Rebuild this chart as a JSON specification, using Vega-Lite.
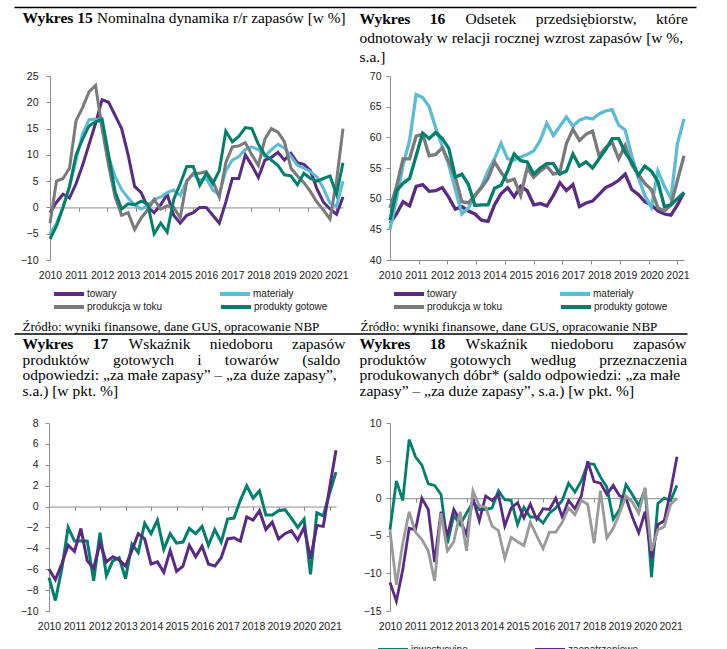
{
"$schema": "https://vega.github.io/schema/vega-lite/v6.json",
"width": 727, "height": 649,
"autosize": {"type": "none"},
"padding": 0,
"background": "white",
"config": {
  "view": {"stroke": null},
  "axis": {"grid": false, "labelFont": "Liberation Sans", "labelFontSize": 10.5, "labelColor": "#222", "domainColor": "#8c8c8c", "tickColor": "#8c8c8c", "titleFont": "Liberation Serif", "titleColor": "#000", "titleFontWeight": "normal", "titleLimit": 2000, "labelFlush": false, "labelOverlap": false, "titleAngle": 0, "titleAlign": "left", "titleBaseline": "alphabetic"},
  "legend": {"title": null, "symbolType": "stroke", "symbolSize": 900, "symbolStrokeWidth": 4, "symbolOpacity": 1, "labelFont": "Liberation Sans", "labelFontSize": 10, "labelColor": "#222", "labelOffset": 1, "rowPadding": 0, "padding": 0, "orient": "none", "direction": "horizontal", "columns": 2}
},
"datasets": {
  "d15": [
    {"t":2010,"towary":-1,"materiały":-5,"produkcja w toku":-3,"produkty gotowe":-6},
    {"t":2010.25,"towary":1,"materiały":-3,"produkcja w toku":5,"produkty gotowe":-3.5},
    {"t":2010.5,"towary":2.5,"materiały":0,"produkcja w toku":5.5,"produkty gotowe":0},
    {"t":2010.75,"towary":1.8,"materiały":4,"produkcja w toku":7.5,"produkty gotowe":4},
    {"t":2011,"towary":4.5,"materiały":9,"produkcja w toku":16.5,"produkty gotowe":10},
    {"t":2011.25,"towary":8,"materiały":14,"produkcja w toku":19,"produkty gotowe":13},
    {"t":2011.5,"towary":12,"materiały":16.7,"produkcja w toku":22,"produkty gotowe":15.5},
    {"t":2011.75,"towary":16,"materiały":16.8,"produkcja w toku":23.2,"produkty gotowe":16.3},
    {"t":2012,"towary":20.5,"materiały":16,"produkcja w toku":15,"produkty gotowe":16.8},
    {"t":2012.25,"towary":20,"materiały":9.6,"produkcja w toku":8,"produkty gotowe":10},
    {"t":2012.5,"towary":17.5,"materiały":5.9,"produkcja w toku":2,"produkty gotowe":3},
    {"t":2012.75,"towary":15,"materiały":3.4,"produkcja w toku":-1.5,"produkty gotowe":-0.3},
    {"t":2013,"towary":10,"materiały":1.8,"produkcja w toku":-1,"produkty gotowe":0.7},
    {"t":2013.25,"towary":4,"materiały":0.5,"produkcja w toku":-4.2,"produkty gotowe":0.5},
    {"t":2013.5,"towary":2.8,"materiały":-0.3,"produkcja w toku":-2,"produkty gotowe":1.2},
    {"t":2013.75,"towary":0,"materiały":0.3,"produkcja w toku":-0.5,"produkty gotowe":0.7},
    {"t":2014,"towary":-1,"materiały":1.5,"produkcja w toku":1.5,"produkty gotowe":-5},
    {"t":2014.25,"towary":0.5,"materiały":2,"produkcja w toku":-0.3,"produkty gotowe":-3},
    {"t":2014.5,"towary":2.5,"materiały":2.8,"produkcja w toku":0.3,"produkty gotowe":-4.7},
    {"t":2014.75,"towary":-1.5,"materiały":3.3,"produkcja w toku":0,"produkty gotowe":1.5},
    {"t":2015,"towary":-3,"materiały":2.3,"produkcja w toku":-2,"produkty gotowe":4.5},
    {"t":2015.25,"towary":-1.5,"materiały":5,"produkcja w toku":5,"produkty gotowe":7.8},
    {"t":2015.5,"towary":-1,"materiały":6.3,"produkcja w toku":6.5,"produkty gotowe":7.8},
    {"t":2015.75,"towary":0,"materiały":5.2,"produkcja w toku":6.5,"produkty gotowe":4.2},
    {"t":2016,"towary":0,"materiały":5.5,"produkcja w toku":6.8,"produkty gotowe":6.5},
    {"t":2016.25,"towary":-1.5,"materiały":3.3,"produkcja w toku":5,"produkty gotowe":4.5},
    {"t":2016.5,"towary":-3,"materiały":2.4,"produkcja w toku":2,"produkty gotowe":7},
    {"t":2016.75,"towary":1,"materiały":7,"produkcja w toku":8.5,"produkty gotowe":14.5},
    {"t":2017,"towary":5.5,"materiały":9,"produkcja w toku":11.5,"produkty gotowe":12.5},
    {"t":2017.25,"towary":5.5,"materiały":9.7,"produkcja w toku":11.7,"produkty gotowe":13.5},
    {"t":2017.5,"towary":10,"materiały":11,"produkcja w toku":12.3,"produkty gotowe":15.2},
    {"t":2017.75,"towary":8,"materiały":11.5,"produkcja w toku":10,"produkty gotowe":15},
    {"t":2018,"towary":5.7,"materiały":11,"produkcja w toku":8,"produkty gotowe":12},
    {"t":2018.25,"towary":9,"materiały":9.7,"produkcja w toku":13,"produkty gotowe":10},
    {"t":2018.5,"towary":9.5,"materiały":11,"produkcja w toku":15,"produkty gotowe":9},
    {"t":2018.75,"towary":10.5,"materiały":12,"produkcja w toku":14.3,"produkty gotowe":8},
    {"t":2019,"towary":9,"materiały":11.3,"produkcja w toku":12.5,"produkty gotowe":6.2},
    {"t":2019.25,"towary":10.3,"materiały":9.7,"produkcja w toku":7.5,"produkty gotowe":6},
    {"t":2019.5,"towary":8.5,"materiały":8,"produkcja w toku":6,"produkty gotowe":4.3},
    {"t":2019.75,"towary":8.2,"materiały":7.5,"produkcja w toku":4.7,"produkty gotowe":6.5},
    {"t":2020,"towary":7,"materiały":6.8,"produkcja w toku":3,"produkty gotowe":5.5},
    {"t":2020.25,"towary":3.5,"materiały":5.8,"produkcja w toku":1,"produkty gotowe":5},
    {"t":2020.5,"towary":1,"materiały":3.6,"produkcja w toku":-0.5,"produkty gotowe":5.5},
    {"t":2020.75,"towary":-0.3,"materiały":0.8,"produkcja w toku":-2.2,"produkty gotowe":6},
    {"t":2021,"towary":-1.3,"materiały":0.2,"produkcja w toku":5,"produkty gotowe":2.5},
    {"t":2021.25,"towary":2,"materiały":5,"produkcja w toku":15,"produkty gotowe":8.5}
  ],
  "d16": [
    {"t":2010,"towary":46,"materiały":45,"produkcja w toku":48.5,"produkty gotowe":46.5},
    {"t":2010.25,"towary":47.5,"materiały":50,"produkcja w toku":52,"produkty gotowe":51.3},
    {"t":2010.5,"towary":49.5,"materiały":55.5,"produkcja w toku":56.5,"produkty gotowe":52.5},
    {"t":2010.75,"towary":48.8,"materiały":59.5,"produkcja w toku":56.5,"produkty gotowe":53.3},
    {"t":2011,"towary":52,"materiały":67,"produkcja w toku":60.2,"produkty gotowe":57},
    {"t":2011.25,"towary":52.3,"materiały":66.5,"produkcja w toku":60.5,"produkty gotowe":60.7},
    {"t":2011.5,"towary":51.2,"materiały":65,"produkcja w toku":57,"produkty gotowe":59.8},
    {"t":2011.75,"towary":51.3,"materiały":61.5,"produkcja w toku":57.2,"produkty gotowe":60.8},
    {"t":2012,"towary":51.8,"materiały":58.5,"produkcja w toku":58.3,"produkty gotowe":59.8},
    {"t":2012.25,"towary":50.2,"materiały":55.5,"produkcja w toku":56,"produkty gotowe":58.2},
    {"t":2012.5,"towary":48.3,"materiały":51.5,"produkcja w toku":53.5,"produkty gotowe":53.5},
    {"t":2012.75,"towary":48.7,"materiały":47.5,"produkcja w toku":49.5,"produkty gotowe":54},
    {"t":2013,"towary":48,"materiały":48.5,"produkcja w toku":49.3,"produkty gotowe":52.3},
    {"t":2013.25,"towary":47.5,"materiały":50.5,"produkcja w toku":50.5,"produkty gotowe":48.9},
    {"t":2013.5,"towary":46.5,"materiały":52,"produkcja w toku":51.8,"produkty gotowe":49},
    {"t":2013.75,"towary":46.3,"materiały":54.5,"produkcja w toku":53.3,"produkty gotowe":49},
    {"t":2014,"towary":49,"materiały":56.5,"produkcja w toku":56,"produkty gotowe":51.7},
    {"t":2014.25,"towary":50.8,"materiały":59,"produkcja w toku":54.3,"produkty gotowe":52.2},
    {"t":2014.5,"towary":51.8,"materiały":56.5,"produkcja w toku":52.8,"produkty gotowe":54.5},
    {"t":2014.75,"towary":50.3,"materiały":56.3,"produkcja w toku":53.2,"produkty gotowe":57.3},
    {"t":2015,"towary":52,"materiały":56.8,"produkcja w toku":50.5,"produkty gotowe":56.2},
    {"t":2015.25,"towary":51.3,"materiały":57.2,"produkcja w toku":55,"produkty gotowe":56},
    {"t":2015.5,"towary":49,"materiały":57.8,"produkcja w toku":53.5,"produkty gotowe":54},
    {"t":2015.75,"towary":49.2,"materiały":59.5,"produkcja w toku":54.5,"produkty gotowe":55},
    {"t":2016,"towary":48.8,"materiały":62.3,"produkcja w toku":55.3,"produkty gotowe":55.7},
    {"t":2016.25,"towary":50.5,"materiały":60.3,"produkcja w toku":54,"produkty gotowe":55.7},
    {"t":2016.5,"towary":52.6,"materiały":61.8,"produkcja w toku":54.3,"produkty gotowe":54},
    {"t":2016.75,"towary":51.3,"materiały":63.3,"produkcja w toku":59,"produkty gotowe":54.5},
    {"t":2017,"towary":52.3,"materiały":61.8,"produkcja w toku":61.3,"produkty gotowe":57.3},
    {"t":2017.25,"towary":48.7,"materiały":62.8,"produkcja w toku":59.5,"produkty gotowe":55.3},
    {"t":2017.5,"towary":49.3,"materiały":63.2,"produkcja w toku":60.5,"produkty gotowe":56},
    {"t":2017.75,"towary":49.6,"materiały":63,"produkcja w toku":61,"produkty gotowe":55},
    {"t":2018,"towary":50.7,"materiały":63.8,"produkcja w toku":57,"produkty gotowe":56.5},
    {"t":2018.25,"towary":51.8,"materiały":64.3,"produkcja w toku":58.3,"produkty gotowe":58},
    {"t":2018.5,"towary":52.3,"materiały":64.5,"produkcja w toku":59.2,"produkty gotowe":59.8},
    {"t":2018.75,"towary":53,"materiały":62,"produkcja w toku":56.5,"produkty gotowe":59.8},
    {"t":2019,"towary":54,"materiały":61.2,"produkcja w toku":58.7,"produkty gotowe":57.5},
    {"t":2019.25,"towary":51.5,"materiały":57,"produkcja w toku":55.5,"produkty gotowe":56},
    {"t":2019.5,"towary":50.7,"materiały":53.5,"produkcja w toku":54,"produkty gotowe":53.8},
    {"t":2019.75,"towary":49.5,"materiały":50.5,"produkcja w toku":52.5,"produkty gotowe":55.3},
    {"t":2020,"towary":49,"materiały":48.6,"produkcja w toku":51.5,"produkty gotowe":54.5},
    {"t":2020.25,"towary":48,"materiały":54.5,"produkcja w toku":48.5,"produkty gotowe":52.8},
    {"t":2020.5,"towary":47.5,"materiały":52,"produkcja w toku":48,"produkty gotowe":48.7},
    {"t":2020.75,"towary":47.3,"materiały":50,"produkcja w toku":49,"produkty gotowe":49},
    {"t":2021,"towary":49,"materiały":59,"produkcja w toku":53,"produkty gotowe":50},
    {"t":2021.25,"towary":51,"materiały":63,"produkcja w toku":57,"produkty gotowe":51}
  ],
  "d17": [
    {"t":2010,"produkty gotowe":-6.8,"towary":-6.0},
    {"t":2010.25,"produkty gotowe":-9.0,"towary":-7.0},
    {"t":2010.5,"produkty gotowe":-6.0,"towary":-5.5},
    {"t":2010.75,"produkty gotowe":-2.0,"towary":-3.7},
    {"t":2011,"produkty gotowe":-3.3,"towary":-4.3},
    {"t":2011.25,"produkty gotowe":-3.3,"towary":-2.1},
    {"t":2011.5,"produkty gotowe":-3.3,"towary":-5.2},
    {"t":2011.75,"produkty gotowe":-7.1,"towary":-5.9},
    {"t":2012,"produkty gotowe":-2.5,"towary":-3.5},
    {"t":2012.25,"produkty gotowe":-6.6,"towary":-5.3},
    {"t":2012.5,"produkty gotowe":-5.2,"towary":-4.8},
    {"t":2012.75,"produkty gotowe":-4.9,"towary":-5.1},
    {"t":2013,"produkty gotowe":-6.9,"towary":-5.7},
    {"t":2013.25,"produkty gotowe":-3.6,"towary":-4.2},
    {"t":2013.5,"produkty gotowe":-4.4,"towary":-2.6},
    {"t":2013.75,"produkty gotowe":-1.6,"towary":-3.1},
    {"t":2014,"produkty gotowe":-2.6,"towary":-5.5},
    {"t":2014.25,"produkty gotowe":-1.3,"towary":-5.3},
    {"t":2014.5,"produkty gotowe":-4.1,"towary":-6.3},
    {"t":2014.75,"produkty gotowe":-2.6,"towary":-4.2},
    {"t":2015,"produkty gotowe":-3.5,"towary":-6.2},
    {"t":2015.25,"produkty gotowe":-3.4,"towary":-5.7},
    {"t":2015.5,"produkty gotowe":-2.1,"towary":-3.7},
    {"t":2015.75,"produkty gotowe":-2.6,"towary":-4.8},
    {"t":2016,"produkty gotowe":-1.9,"towary":-3.8},
    {"t":2016.25,"produkty gotowe":-3.7,"towary":-5.5},
    {"t":2016.5,"produkty gotowe":-2.2,"towary":-5.7},
    {"t":2016.75,"produkty gotowe":-3.4,"towary":-4.9},
    {"t":2017,"produkty gotowe":-1.2,"towary":-3.1},
    {"t":2017.25,"produkty gotowe":-1.1,"towary":-3.0},
    {"t":2017.5,"produkty gotowe":0.6,"towary":-3.3},
    {"t":2017.75,"produkty gotowe":2.0,"towary":-1.0},
    {"t":2018,"produkty gotowe":0.8,"towary":-1.3},
    {"t":2018.25,"produkty gotowe":1.5,"towary":-0.4},
    {"t":2018.5,"produkty gotowe":-0.8,"towary":-2.2},
    {"t":2018.75,"produkty gotowe":-0.8,"towary":-1.5},
    {"t":2019,"produkty gotowe":-0.4,"towary":-3.1},
    {"t":2019.25,"produkty gotowe":-0.3,"towary":-2.6},
    {"t":2019.5,"produkty gotowe":-1.1,"towary":-2.3},
    {"t":2019.75,"produkty gotowe":-2.0,"towary":-3.2},
    {"t":2020,"produkty gotowe":-1.2,"towary":-2.0},
    {"t":2020.25,"produkty gotowe":-6.5,"towary":-5.0},
    {"t":2020.5,"produkty gotowe":-0.6,"towary":-1.8},
    {"t":2020.75,"produkty gotowe":-0.9,"towary":-1.9},
    {"t":2021,"produkty gotowe":1.3,"towary":1.8},
    {"t":2021.25,"produkty gotowe":3.3,"towary":5.4}
  ],
  "d18": [
    {"t":2010,"inwestycyjne":-4.2,"zaopatrzeniowe":-11.2,"konsumpcyjne":-4.3},
    {"t":2010.25,"inwestycyjne":2.3,"zaopatrzeniowe":-13.7,"konsumpcyjne":-11.5},
    {"t":2010.5,"inwestycyjne":-0.3,"zaopatrzeniowe":-9.5,"konsumpcyjne":-6},
    {"t":2010.75,"inwestycyjne":7.8,"zaopatrzeniowe":-4,"konsumpcyjne":-1.8},
    {"t":2011,"inwestycyjne":5.5,"zaopatrzeniowe":-4.2,"konsumpcyjne":-4.5},
    {"t":2011.25,"inwestycyjne":4.4,"zaopatrzeniowe":0,"konsumpcyjne":-5.5},
    {"t":2011.5,"inwestycyjne":1.9,"zaopatrzeniowe":-1.5,"konsumpcyjne":-7},
    {"t":2011.75,"inwestycyjne":1.7,"zaopatrzeniowe":-8.5,"konsumpcyjne":-11},
    {"t":2012,"inwestycyjne":0.5,"zaopatrzeniowe":-1.8,"konsumpcyjne":-2},
    {"t":2012.25,"inwestycyjne":-6,"zaopatrzeniowe":-5,"konsumpcyjne":-7},
    {"t":2012.5,"inwestycyjne":-2.3,"zaopatrzeniowe":-1.5,"konsumpcyjne":-5.8},
    {"t":2012.75,"inwestycyjne":-3.5,"zaopatrzeniowe":-3,"konsumpcyjne":-1.8},
    {"t":2013,"inwestycyjne":-2,"zaopatrzeniowe":-4.8,"konsumpcyjne":-7},
    {"t":2013.25,"inwestycyjne":-0.5,"zaopatrzeniowe":0,"konsumpcyjne":1},
    {"t":2013.5,"inwestycyjne":-1.5,"zaopatrzeniowe":-3,"konsumpcyjne":-1},
    {"t":2013.75,"inwestycyjne":-1.5,"zaopatrzeniowe":0.3,"konsumpcyjne":-1.2},
    {"t":2014,"inwestycyjne":-1.3,"zaopatrzeniowe":-0.3,"konsumpcyjne":-3.7},
    {"t":2014.25,"inwestycyjne":1,"zaopatrzeniowe":0.5,"konsumpcyjne":-4.3},
    {"t":2014.5,"inwestycyjne":-0.2,"zaopatrzeniowe":-3.7,"konsumpcyjne":-8},
    {"t":2014.75,"inwestycyjne":-0.3,"zaopatrzeniowe":-1.3,"konsumpcyjne":-5.2},
    {"t":2015,"inwestycyjne":-3.5,"zaopatrzeniowe":-0.6,"konsumpcyjne":-5.8},
    {"t":2015.25,"inwestycyjne":-1.2,"zaopatrzeniowe":-2.6,"konsumpcyjne":-6.3},
    {"t":2015.5,"inwestycyjne":-2.5,"zaopatrzeniowe":-0.8,"konsumpcyjne":-3.2},
    {"t":2015.75,"inwestycyjne":-2.5,"zaopatrzeniowe":-2.8,"konsumpcyjne":-5},
    {"t":2016,"inwestycyjne":-3.3,"zaopatrzeniowe":-1.4,"konsumpcyjne":-6.7},
    {"t":2016.25,"inwestycyjne":-2,"zaopatrzeniowe":-1.5,"konsumpcyjne":-4.5},
    {"t":2016.5,"inwestycyjne":-1.3,"zaopatrzeniowe":0,"konsumpcyjne":-4.5},
    {"t":2016.75,"inwestycyjne":-0.3,"zaopatrzeniowe":-2.5,"konsumpcyjne":-3.2},
    {"t":2017,"inwestycyjne":2,"zaopatrzeniowe":-0.3,"konsumpcyjne":-1.3},
    {"t":2017.25,"inwestycyjne":0.8,"zaopatrzeniowe":-1.4,"konsumpcyjne":-2.2},
    {"t":2017.5,"inwestycyjne":2.3,"zaopatrzeniowe":0.3,"konsumpcyjne":-0.3},
    {"t":2017.75,"inwestycyjne":4.6,"zaopatrzeniowe":4.9,"konsumpcyjne":-0.8},
    {"t":2018,"inwestycyjne":4.5,"zaopatrzeniowe":2.2,"konsumpcyjne":-6},
    {"t":2018.25,"inwestycyjne":2.8,"zaopatrzeniowe":2,"konsumpcyjne":1},
    {"t":2018.5,"inwestycyjne":1.5,"zaopatrzeniowe":0.5,"konsumpcyjne":-5.3},
    {"t":2018.75,"inwestycyjne":-2.8,"zaopatrzeniowe":1.7,"konsumpcyjne":-4},
    {"t":2019,"inwestycyjne":-1.5,"zaopatrzeniowe":0.3,"konsumpcyjne":-2},
    {"t":2019.25,"inwestycyjne":1.8,"zaopatrzeniowe":0,"konsumpcyjne":0.3},
    {"t":2019.5,"inwestycyjne":0.5,"zaopatrzeniowe":-2.5,"konsumpcyjne":-0.5},
    {"t":2019.75,"inwestycyjne":-1,"zaopatrzeniowe":-4.6,"konsumpcyjne":-2},
    {"t":2020,"inwestycyjne":1.2,"zaopatrzeniowe":-1.8,"konsumpcyjne":1.4},
    {"t":2020.25,"inwestycyjne":-10.5,"zaopatrzeniowe":-8,"konsumpcyjne":-7},
    {"t":2020.5,"inwestycyjne":-0.7,"zaopatrzeniowe":-3.5,"konsumpcyjne":-4.2},
    {"t":2020.75,"inwestycyjne":0,"zaopatrzeniowe":-3,"konsumpcyjne":-3.8},
    {"t":2021,"inwestycyjne":-0.3,"zaopatrzeniowe":1,"konsumpcyjne":-0.8},
    {"t":2021.25,"inwestycyjne":1.7,"zaopatrzeniowe":5.5,"konsumpcyjne":0}
  ],
  "dummy": [{"t":2010,"v":0}]
},
"layer": [
  {
    "data": {"name": "d15"},
    "transform": [{"fold": ["towary","materiały","produkcja w toku","produkty gotowe"], "as": ["s","v"]}],
    "mark": {"type": "line", "strokeWidth": 3},
    "encoding": {
      "x": {"field": "t", "type": "quantitative", "scale": {"domain": [2010, 2021.25], "range": [50, 343], "nice": false, "zero": false},
            "axis": {"orient": "bottom", "offset": -389, "values": [2010,2011,2012,2013,2014,2015,2016,2017,2018,2019,2020,2021], "format": "d", "domain": false, "ticks": false, "labelPadding": 10,
                     "title": "Źródło: wyniki finansowe, dane GUS, opracowanie NBP", "titleX": 22, "titleY": 70, "titleFontSize": 13}},
      "y": {"field": "v", "type": "quantitative", "scale": {"domain": [-10, 25], "range": [260, 76], "nice": false, "zero": false},
            "axis": {"orient": "left", "offset": -50, "values": [-10,-5,0,5,10,15,20,25], "tickSize": 4, "labelPadding": 8,
                     "title": "Wykres 15", "titleX": -28, "titleY": 22.7, "titleFontSize": 15.5, "titleFontWeight": "bold"}},
      "color": {"field": "s", "type": "nominal", "sort": null,
                "scale": {"domain": ["towary","materiały","produkcja w toku","produkty gotowe"], "range": ["#5B2A86","#5CBCD6","#7A7A7A","#00806C"]},
                "legend": {"values": ["towary","materiały"], "legendX": 52, "legendY": 277, "columnPadding": 95}}
    }
  },
  {
    "data": {"name": "dummy"},
    "mark": {"type": "point", "opacity": 0},
    "encoding": {
      "x": {"field": "t", "type": "quantitative", "scale": {"domain": [2010, 2021.25], "range": [50, 343], "nice": false, "zero": false},
            "axis": {"orient": "bottom", "offset": -441.57, "values": [2011.1,2012.2,2013.3,2014.4,2015.5,2016.6,2017.7,2018.8,2019.9,2021], "labels": false, "tickSize": 4,
                     "title": "Nominalna dynamika r/r zapasów [w %]", "titleX": 96.5, "titleY": -184.73, "titleFontSize": 15.3}},
      "y": {"field": "v", "type": "quantitative", "scale": {"domain": [-10, 25], "range": [260, 76], "nice": false, "zero": false}, "axis": null},
      "color": {"field": "s", "type": "nominal", "sort": null,
                "scale": {"domain": ["produkcja w toku","produkty gotowe"], "range": ["#7A7A7A","#00806C"]},
                "legend": {"symbolType": "stroke", "symbolStrokeWidth": 4, "symbolOpacity": 1, "legendX": 52, "legendY": 290, "columnPadding": 50}}
    }
  },
  {
    "data": {"name": "d16"},
    "transform": [{"fold": ["towary","materiały","produkcja w toku","produkty gotowe"], "as": ["s","v"]}],
    "mark": {"type": "line", "strokeWidth": 3.3},
    "encoding": {
      "x": {"field": "t", "type": "quantitative", "scale": {"domain": [2010, 2021.25], "range": [390, 684], "nice": false, "zero": false},
            "axis": {"orient": "bottom", "offset": -389, "values": [2010,2011,2012,2013,2014,2015,2016,2017,2018,2019,2020,2021], "format": "d", "domain": false, "ticks": false, "labelPadding": 10,
                     "title": "Źródło: wyniki finansowe, dane GUS, opracowanie NBP", "titleX": 360, "titleY": 70, "titleFontSize": 13}},
      "y": {"field": "v", "type": "quantitative", "scale": {"domain": [40, 70], "range": [260, 76], "nice": false, "zero": false},
            "axis": {"orient": "left", "offset": -390, "values": [40,45,50,55,60,65,70], "tickSize": 4, "labelPadding": 5,
                     "title": "Wykres\u00a0\u00a0\u00a0\u00a0\u00a016", "titleX": -31, "titleY": 23.3, "titleFontSize": 15.5, "titleFontWeight": "bold"}},
      "color": {"field": "s", "type": "nominal", "sort": null,
                "scale": {"domain": ["towary","materiały","produkcja w toku","produkty gotowe"], "range": ["#5B2A86","#5CBCD6","#7A7A7A","#00806C"]},
                "legend": {"values": ["towary","materiały"], "legendX": 392, "legendY": 277, "columnPadding": 95}}
    }
  },
  {
    "data": {"name": "dummy"},
    "mark": {"type": "point", "opacity": 0},
    "encoding": {
      "x": {"field": "t", "type": "quantitative", "scale": {"domain": [2010, 2021.25], "range": [390, 684], "nice": false, "zero": false},
            "axis": {"orient": "bottom", "offset": -389, "values": [2011.1,2012.2,2013.3,2014.4,2015.5,2016.6,2017.7,2018.8,2019.9,2021], "labels": false, "tickSize": 4,
                     "title": "Odsetek\u00a0\u00a0\u00a0\u00a0\u00a0przedsiębiorstw,\u00a0\u00a0\u00a0\u00a0\u00a0które", "titleX": 465, "titleY": -236.7, "titleFontSize": 15.5}},
      "y": {"field": "v", "type": "quantitative", "scale": {"domain": [40, 70], "range": [260, 76], "nice": false, "zero": false},
            "axis": {"orient": "left", "offset": 0, "domain": false, "ticks": false, "labels": false, "values": [40],
                     "title": ["odnotowały w relacji rocznej wzrost zapasów [w %,", "s.a.]"], "titleX": 359, "titleY": 42.7, "titleFontSize": 15.5, "titleLineHeight": 19}},
      "color": {"field": "s", "type": "nominal", "sort": null,
                "scale": {"domain": ["produkcja w toku","produkty gotowe"], "range": ["#7A7A7A","#00806C"]},
                "legend": {"symbolType": "stroke", "symbolStrokeWidth": 4, "symbolOpacity": 1, "legendX": 392, "legendY": 290, "columnPadding": 50}}
    }
  },
  {
    "data": {"name": "d17"},
    "transform": [{"fold": ["produkty gotowe","towary"], "as": ["s","v"]}],
    "mark": {"type": "line", "strokeWidth": 3},
    "encoding": {
      "x": {"field": "t", "type": "quantitative", "scale": {"domain": [2010, 2021.25], "range": [49, 336], "nice": false, "zero": false},
            "axis": {"orient": "bottom", "offset": -38, "values": [2010,2011,2012,2013,2014,2015,2016,2017,2018,2019,2020,2021], "format": "d", "domain": false, "ticks": false, "labelPadding": 10,
                     "title": "Wskaźnik\u00a0\u00a0\u00a0\u00a0\u00a0niedoboru\u00a0\u00a0\u00a0\u00a0\u00a0zapasów", "titleX": 128, "titleY": -262.7, "titleFontSize": 15.5}},
      "y": {"field": "v", "type": "quantitative", "scale": {"domain": [-10, 8], "range": [611, 423], "nice": false, "zero": false},
            "axis": {"orient": "left", "offset": -49, "values": [-10,-8,-6,-4,-2,0,2,4,6,8], "tickSize": 4, "labelPadding": 7,
                     "title": "Wykres\u00a0\u00a0\u00a0\u00a0\u00a017", "titleX": -27, "titleY": 348.3, "titleFontSize": 15.5, "titleFontWeight": "bold"}},
      "color": {"field": "s", "type": "nominal", "sort": null,
                "scale": {"domain": ["produkty gotowe","towary"], "range": ["#00806C","#5B2A86"]}, "legend": null}
    }
  },
  {
    "data": {"name": "dummy"},
    "mark": {"type": "point", "opacity": 0},
    "encoding": {
      "x": {"field": "t", "type": "quantitative", "scale": {"domain": [2010, 2021.25], "range": [49, 336], "nice": false, "zero": false},
            "axis": {"orient": "bottom", "offset": -142.44, "values": [2011,2012,2013,2014,2015,2016,2017,2018,2019,2020,2021], "labels": false, "tickSize": 4,
                     "title": ["produktów\u00a0\u00a0\u00a0\u00a0\u00a0\u00a0gotowych\u00a0\u00a0\u00a0\u00a0\u00a0\u00a0i\u00a0\u00a0\u00a0\u00a0\u00a0\u00a0towarów\u00a0\u00a0\u00a0\u00a0\u00a0\u00a0(saldo",
                               "odpowiedzi: \u201eza małe zapasy\u201d \u2013 \u201eza duże zapasy\u201d,",
                               "s.a.) [w pkt. %]"],
                     "titleX": 22, "titleY": -142.26, "titleFontSize": 15.5, "titleLineHeight": 15.7}},
      "y": {"field": "v", "type": "quantitative", "scale": {"domain": [-10, 8], "range": [611, 423], "nice": false, "zero": false}, "axis": null}
    }
  },
  {
    "data": {"name": "d18"},
    "transform": [{"fold": ["inwestycyjne","zaopatrzeniowe","konsumpcyjne"], "as": ["s","v"]}],
    "mark": {"type": "line", "strokeWidth": 2.8},
    "encoding": {
      "x": {"field": "t", "type": "quantitative", "scale": {"domain": [2010, 2021.25], "range": [390, 677], "nice": false, "zero": false},
            "axis": {"orient": "bottom", "offset": -38, "values": [2010,2011,2012,2013,2014,2015,2016,2017,2018,2019,2020,2021], "format": "d", "domain": false, "ticks": false, "labelPadding": 10,
                     "title": "Wskaźnik\u00a0\u00a0\u00a0\u00a0\u00a0\u00a0niedoboru\u00a0\u00a0\u00a0\u00a0\u00a0zapasów", "titleX": 465, "titleY": -262.7, "titleFontSize": 15.5}},
      "y": {"field": "v", "type": "quantitative", "scale": {"domain": [-15, 10], "range": [611, 423], "nice": false, "zero": false},
            "axis": {"orient": "left", "offset": -390, "values": [-15,-10,-5,0,5,10], "tickSize": 4, "labelPadding": 5,
                     "title": "Wykres\u00a0\u00a0\u00a0\u00a0\u00a018", "titleX": -31, "titleY": 348.3, "titleFontSize": 15.5, "titleFontWeight": "bold"}},
      "color": {"field": "s", "type": "nominal", "sort": null,
                "scale": {"domain": ["inwestycyjne","zaopatrzeniowe","konsumpcyjne"], "range": ["#00806C","#5B2A86","#9A9A9A"]},
                "legend": {"values": ["inwestycyjne","zaopatrzeniowe"], "legendX": 376, "legendY": 633, "columnPadding": 59}}
    }
  },
  {
    "data": {"name": "dummy"},
    "mark": {"type": "point", "opacity": 0},
    "encoding": {
      "x": {"field": "t", "type": "quantitative", "scale": {"domain": [2010, 2021.25], "range": [390, 677], "nice": false, "zero": false},
            "axis": {"orient": "bottom", "offset": -150.8, "values": [2011,2012,2013,2014,2015,2016,2017,2018,2019,2020,2021], "labels": false, "tickSize": 4,
                     "title": ["produktów\u00a0\u00a0\u00a0\u00a0\u00a0\u00a0gotowych\u00a0\u00a0\u00a0\u00a0\u00a0według\u00a0\u00a0\u00a0\u00a0\u00a0\u00a0przeznaczenia",
                               "produkowanych dóbr* (saldo odpowiedzi: \u201eza małe",
                               "zapasy\u201d \u2013 \u201eza duże zapasy\u201d, s.a.) [w pkt. %]"],
                     "titleX": 359, "titleY": -133.9, "titleFontSize": 15.5, "titleLineHeight": 15.7}},
      "y": {"field": "v", "type": "quantitative", "scale": {"domain": [-15, 10], "range": [611, 423], "nice": false, "zero": false}, "axis": null}
    }
  },
  {
    "data": {"name": "dummy"},
    "mark": {"type": "point", "opacity": 0},
    "encoding": {
      "x": {"field": "t", "type": "quantitative", "scale": {"domain": [0, 1], "range": [14, 696], "nice": false, "zero": false},
            "axis": {"orient": "top", "offset": -7, "labels": false, "ticks": false, "domainColor": "#000", "domainWidth": 1.3, "title": null}},
      "y": {"field": "v", "type": "quantitative", "scale": {"domain": [0, 1], "range": [649, 0], "nice": false, "zero": false}, "axis": null}
    }
  },
  {
    "data": {"name": "dummy"},
    "mark": {"type": "point", "opacity": 0},
    "encoding": {
      "x": {"field": "t", "type": "quantitative", "scale": {"domain": [0, 1], "range": [14, 687], "nice": false, "zero": false},
            "axis": {"orient": "top", "offset": -333.5, "labels": false, "ticks": false, "domainColor": "#000", "domainWidth": 1.3, "title": null}},
      "y": {"field": "v", "type": "quantitative", "scale": {"domain": [0, 1], "range": [649, 0], "nice": false, "zero": false}, "axis": null}
    }
  }
],
"resolve": {
  "scale": {"x": "independent", "y": "independent", "color": "independent"},
  "axis": {"x": "independent", "y": "independent"},
  "legend": {"color": "independent"}
}
}
